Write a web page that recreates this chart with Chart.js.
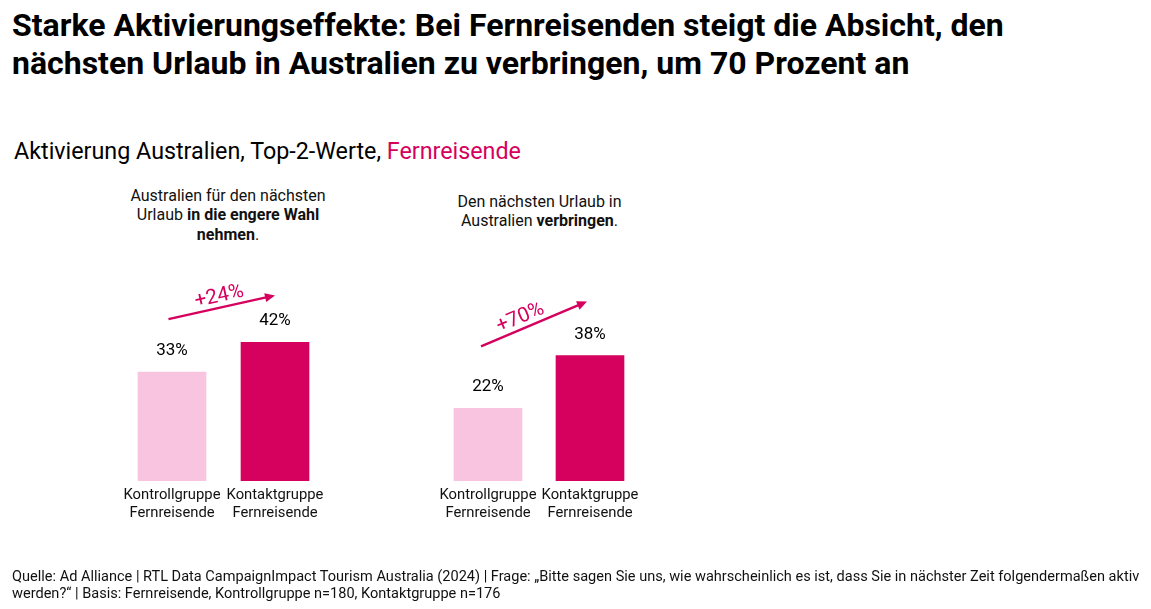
<!DOCTYPE html>
<html><head><meta charset="utf-8">
<script src="https://cdn.jsdelivr.net/npm/chart.js@4.4.1/dist/chart.umd.min.js"></script>
<style>
html,body{margin:0;padding:0;background:#fff;}
body{width:1151px;height:609px;position:relative;overflow:hidden;font-family:Roboto,"Noto Sans",sans-serif;color:#000;}
#title{position:absolute;left:12px;top:6px;font-weight:700;font-size:32px;line-height:38px;white-space:nowrap;}
#subtitle{position:absolute;left:14px;top:138px;font-size:23.3px;line-height:26px;white-space:nowrap;}
#subtitle span{color:#D6005E;}
.head{position:absolute;width:300px;text-align:center;font-size:16px;line-height:19.5px;color:#111;}
#foot{position:absolute;left:12px;top:568px;font-size:14.55px;line-height:17px;color:#111;white-space:nowrap;}
.wrap{position:absolute;top:260px;width:400px;height:349px;}
</style></head>
<body>
<div id="title">Starke Aktivierungseffekte: Bei Fernreisenden steigt die Absicht, den<br>nächsten Urlaub in Australien zu verbringen, um 70 Prozent an</div>
<div id="subtitle">Aktivierung Australien, Top-2-Werte, <span>Fernreisende</span></div>
<div class="head" style="left:78px;top:185.5px;">Australien für den nächsten<br>Urlaub <b>in die engere Wahl</b><br><b>nehmen</b>.</div>
<div class="head" style="left:389.5px;top:191.5px;">Den nächsten Urlaub in<br>Australien <b>verbringen</b>.</div>
<div class="wrap" style="left:0px;"><canvas id="c1"></canvas></div>
<div class="wrap" style="left:400px;"><canvas id="c2"></canvas></div>
<div id="foot">Quelle: Ad Alliance | RTL Data CampaignImpact Tourism Australia (2024) | Frage: „Bitte sagen Sie uns, wie wahrscheinlich es ist, dass Sie in nächster Zeit folgendermaßen aktiv<br>werden?“ | Basis: Fernreisende, Kontrollgruppe n=180, Kontaktgruppe n=176</div>
<script>
// ---- data ----
const categories = [["Kontrollgruppe", "Fernreisende"], ["Kontaktgruppe", "Fernreisende"]];
const valuesShortlist = [33, 42];   // "in die engere Wahl nehmen"
const valuesBooking = [22, 38];     // "verbringen"
const upliftLabels = ["+24%", "+70%"];

// ---- style ----
const PALE = "#F8C4DF";
const DARK = "#D6005E";

const barLabelsAndArrow = {
  id: "barLabelsAndArrow",
  afterDatasetsDraw(chart, args, opts) {
    const ctx = chart.ctx;
    const meta = chart.getDatasetMeta(0);
    const data = chart.data.datasets[0].data;
    ctx.save();
    ctx.fillStyle = "#000";
    ctx.font = "17px Roboto";
    ctx.textAlign = "center";
    ctx.textBaseline = "alphabetic";
    meta.data.forEach((bar, i) => {
      ctx.fillText(data[i] + "%", bar.x, bar.y - 17);
    });
    // arrow
    const a = meta.data[0], b = meta.data[1];
    const sx = a.x + opts.start[0], sy = a.y + opts.start[1];
    const ex = b.x + opts.end[0], ey = b.y + opts.end[1];
    const ang = Math.atan2(ey - sy, ex - sx);
    const ux = Math.cos(ang), uy = Math.sin(ang);
    const head = 10, hw = 4.5;
    ctx.strokeStyle = DARK;
    ctx.fillStyle = DARK;
    ctx.lineWidth = 2.4;
    ctx.beginPath();
    ctx.moveTo(sx, sy);
    ctx.lineTo(ex - ux * head * 0.8, ey - uy * head * 0.8);
    ctx.stroke();
    ctx.beginPath();
    ctx.moveTo(ex, ey);
    ctx.lineTo(ex - ux * head - uy * hw, ey - uy * head + ux * hw);
    ctx.lineTo(ex - ux * head + uy * hw, ey - uy * head - ux * hw);
    ctx.closePath();
    ctx.fill();
    // label
    const mx = (sx + ex) / 2 + ux * opts.along + uy * opts.perp;
    const my = (sy + ey) / 2 + uy * opts.along - ux * opts.perp;
    ctx.translate(mx, my);
    ctx.rotate(ang);
    ctx.font = "20.5px Roboto";
    ctx.textBaseline = "middle";
    ctx.fillText(opts.label, 0, 0);
    ctx.restore();
  }
};

function makeChart(id, values, label, padL, padR, arrow) {
  return new Chart(document.getElementById(id), {
    type: "bar",
    data: {
      labels: categories,
      datasets: [{
        data: values,
        backgroundColor: [PALE, DARK],
        borderWidth: 0,
        barThickness: 68
      }]
    },
    options: {
      responsive: true,
      maintainAspectRatio: false,
      animation: false,
      layout: { padding: { left: padL, right: padR, top: 56, bottom: 0 } },
      plugins: {
        legend: { display: false },
        tooltip: { enabled: false },
        barLabelsAndArrow: Object.assign({ label: label }, arrow)
      },
      scales: {
        x: {
          grid: { display: false },
          border: { display: false },
          ticks: { color: "#111", font: { family: "Roboto", size: 14.8, lineHeight: "18px" }, padding: -3, maxRotation: 0, autoSkip: false },
          afterFit(scale) { scale.height = 128; }
        },
        y: { display: false, min: 0, max: 50 }
      }
    },
    plugins: [barLabelsAndArrow]
  });
}

makeChart("c1", valuesShortlist, upliftLabels[0], 120.5, 73.5,
  { start: [-3.5, -53], end: [0, -47], along: 0, perp: 11 });
makeChart("c2", valuesBooking, upliftLabels[1], 37, 159,
  { start: [-7, -62], end: [-3, -54], along: -10, perp: 11 });
</script>
</body></html>
